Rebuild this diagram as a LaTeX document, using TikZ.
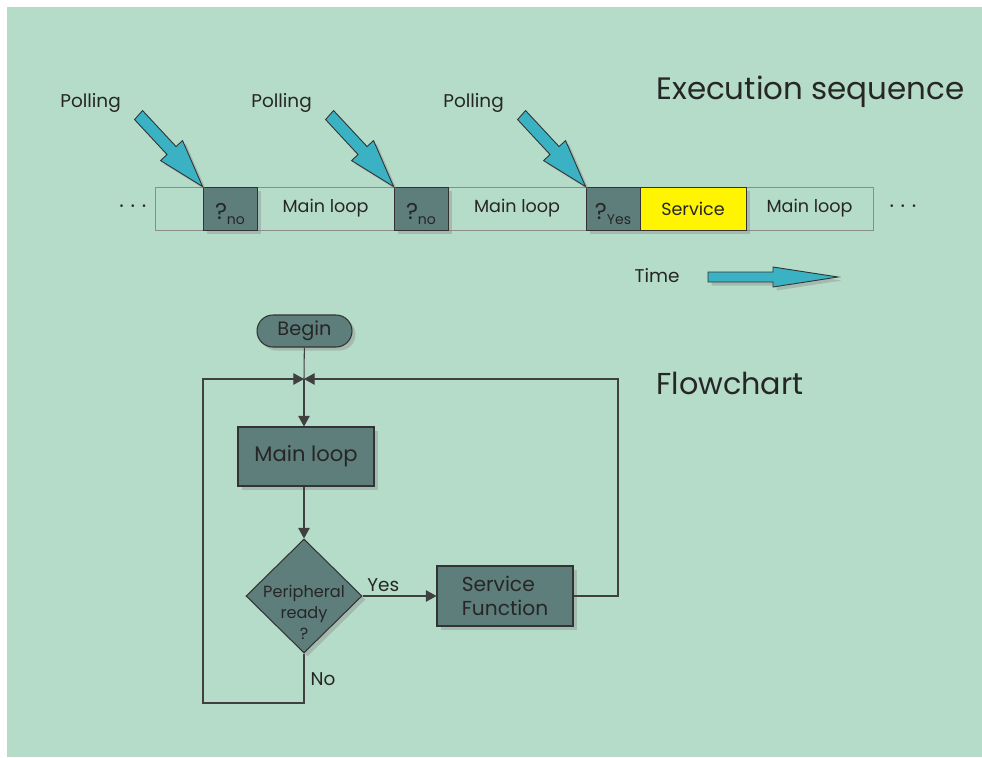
\documentclass[tikz,border=0pt]{standalone}
\usepackage{fontspec}
\setmainfont{Poppins}
\usetikzlibrary{arrows.meta,shapes.geometric,shapes.misc,shadows}
\definecolor{bgGreen}{HTML}{B5DCC8}
\definecolor{boxGray}{HTML}{5E7E7B}
\definecolor{arrowCyan}{HTML}{3AB2C4}
\definecolor{srvYellow}{HTML}{FFF500}
\newcommand{\qsub}[1]{?\raisebox{-0.4ex}{\fontsize{8}{9}\selectfont #1}}

\begin{document}
\begin{tikzpicture}[x=0.02cm, y=-0.02cm, >={Triangle[length=6pt,width=6.5pt]},
		every node/.style={text=black!85, inner sep=0pt},
		boxshadow/.style={drop shadow={shadow xshift=2pt, shadow yshift=-2pt, opacity=0.35}},
		slot/.style={draw=black!45, line width=0.5pt, minimum height=0.86cm, font=\fontsize{10}{12}\selectfont},
		qbox/.style={slot, draw=black!80, fill=boxGray, boxshadow, minimum width=1.08cm, text height=13pt, text depth=1pt, font=\fontsize{13}{14}\selectfont},
		fbox/.style={draw=black!80, line width=0.6pt, fill=boxGray, boxshadow, font=\fontsize{11.5}{13.5}\selectfont},
		link/.style={draw=black!75, line width=0.6pt},
		label/.style={font=\fontsize{10.5}{12}\selectfont},
		title/.style={font=\fontsize{17.6}{20}\selectfont, anchor=west}]
	% 1. 背景与边界
	\useasboundingbox (0,0) rectangle (982,757);
	\fill[bgGreen] (7,7) rectangle (982,757);
	
	% 2. 执行序列
	\node[title] (exec) at (656,92) {Execution sequence};
	\node[font=\fontsize{14}{14}\selectfont] (dl) at (133,207) {$\cdots$};
	\node[font=\fontsize{14}{14}\selectfont] (dr) at (903,207) {$\cdots$};
	\node[slot, minimum width=0.96cm] (e0) at (179,208.5) {};
	\node[slot, minimum width=2.74cm] (m1) at (325.5,208.5) {Main loop};
	\node[slot, minimum width=2.76cm] (m2) at (517,208.5) {Main loop};
	\node[slot, minimum width=2.54cm] (m3) at (809.5,208.5) {Main loop};
	\node[qbox] (q1) at (230,208.5) {\qsub{no}};
	\node[qbox] (q2) at (421,208.5) {\qsub{no}};
	\node[qbox] (q3) at (613,208.5) {\qsub{Yes}};
	\node[slot, draw=black!80, fill=srvYellow, boxshadow, minimum width=2.12cm] (srv) at (693,208.5) {Service};
	
	% 3. 轮询箭头
	\foreach \q in {q1,q2,q3}{
		\filldraw[fill=arrowCyan, draw=black!80, line width=0.5pt, boxshadow, shift={(\q.north west)}]
			(0,0) -- (-42,-26) -- (-35.5,-32) -- (-68,-67) -- (-60,-76) -- (-26.5,-40) -- (-20,-46) -- cycle;
		\node[label] (p-\q) at ([shift={(-112,-84)}]\q.north west) {Polling};
	}
	
	% 4. 时间轴
	\node[label] (time) at (657,276) {Time};
	\coordinate (tail) at (708,277);
	\filldraw[fill=arrowCyan, draw=black!80, line width=0.5pt, boxshadow, shift={(tail)}]
		(0,-5) -- (65,-5) -- (65,-10) -- (130,0) -- (65,10) -- (65,5) -- (0,5) -- cycle;
	
	% 5. 流程图
	\node[title, font=\fontsize{17.2}{20}\selectfont] (flow) at (656,383) {Flowchart};
	\node[fbox, rounded rectangle, minimum width=1.9cm, minimum height=0.64cm, font=\fontsize{11}{12}\selectfont] (begin) at (304.5,331) {Begin};
	\coordinate (j) at (304,379);
	\node[fbox, minimum width=2.72cm, minimum height=1.18cm, font=\fontsize{12}{14}\selectfont] (main) at (306,456.5) {Main loop};
	\node[fbox, diamond, minimum width=2.32cm, minimum height=2.28cm] (ready) at (304,596) {};
	\node[font=\fontsize{9.2}{12}\selectfont, align=center] (rtxt) at (304,612) {Peripheral\\ready\\?};
	\node[fbox, minimum width=2.72cm, minimum height=1.2cm, align=left] (service) at (505,596) {Service\\Function};
	\coordinate (jr) at (618,379);
	\coordinate (nb) at (203,703);
	
	\draw[link] (begin) -- (j);
	\draw[link,->] (j) -- (j |- main.north);
	\draw[link,->] (ready |- main.south) -- (ready.north);
	\draw[link,->] (ready.east) -- (service.west) node[label, pos=0.28, above=2pt] {Yes};
	\draw[link,->] (service.east) -| (jr) -- (j);
	\draw[link,->] (ready.south) |- (nb) |- (j);
	\node[label] (no) at (323,679) {No};
\end{tikzpicture}
\end{document}
